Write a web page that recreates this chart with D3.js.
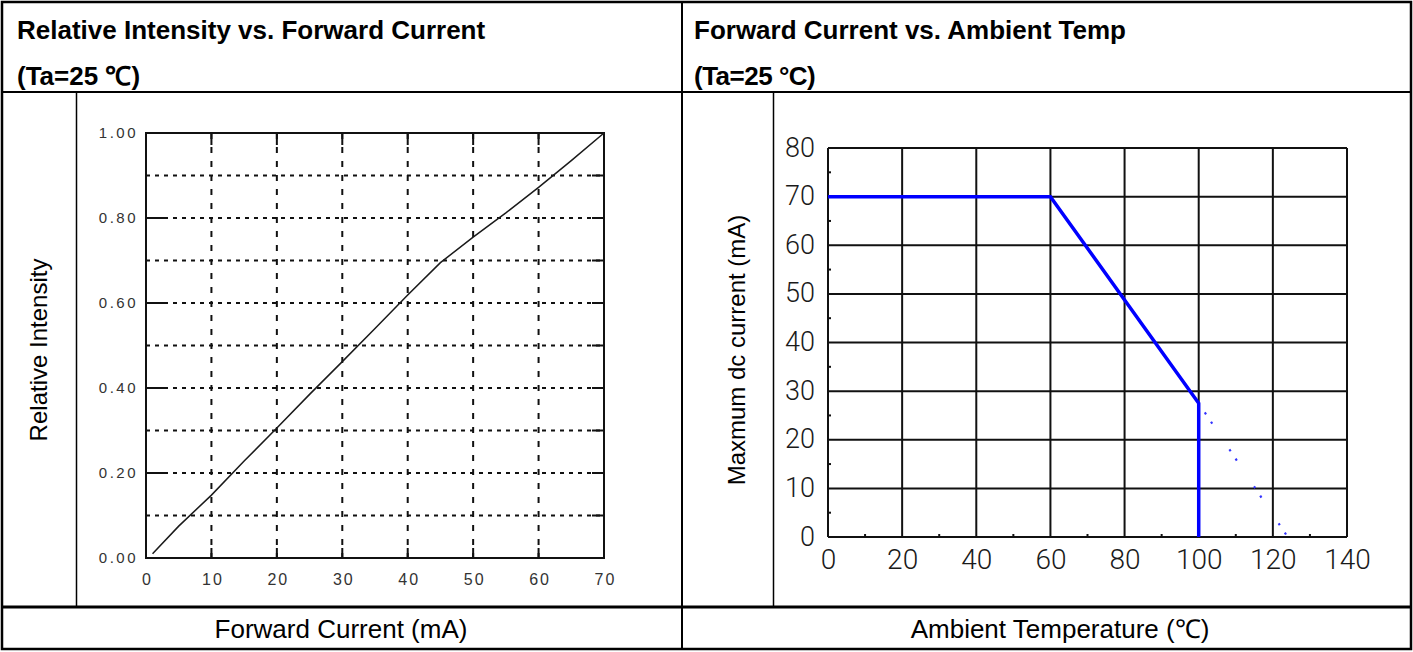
<!DOCTYPE html>
<html>
<head>
<meta charset="utf-8">
<script src="https://cdn.jsdelivr.net/npm/d3@7"></script>
<style>
  html, body { margin: 0; padding: 0; background: #fff; }
  svg { display: block; }
  .hdr { font-family: "Liberation Sans", Arial, sans-serif; font-weight: bold; font-size: 26px; fill: #000; }
  .lbl { font-family: "Liberation Sans", Arial, sans-serif; font-size: 26px; fill: #000; }
  .ylbl { font-family: "Liberation Sans", Arial, sans-serif; font-size: 24px; fill: #000; }
  .lt { font-family: "Liberation Sans", Arial, sans-serif; font-size: 15px; fill: #333; letter-spacing: 2.5px; }
  .rt { font-family: Roboto, "Liberation Sans", sans-serif; font-weight: 300; font-size: 27px; fill: #1a1a1a; }
</style>
</head>
<body>
<svg id="chart" width="1413" height="652"></svg>
<script>
// ---------- data ----------
const leftTitle = "Relative Intensity vs. Forward Current";
const leftSub = "(Ta=25 \u2103)";
const rightTitle = "Forward Current vs. Ambient Temp";
const rightSub = "(Ta=25 \u00B0C)";
const leftXLabel = "Forward Current (mA)";
const rightXLabel = "Ambient Temperature (\u2103)";
const leftYLabel = "Relative Intensity";
const rightYLabel = "Maxmum dc current (mA)";

const leftXTicks = [0, 10, 20, 30, 40, 50, 60, 70];
const leftYTicks = [0, 0.2, 0.4, 0.6, 0.8, 1.0];
const leftYGrid = [0.1, 0.2, 0.3, 0.4, 0.5, 0.6, 0.7, 0.8, 0.9];
const leftXGrid = [10, 20, 30, 40, 50, 60];

const forwardCurrent = [1, 5, 10, 15, 20, 25, 30, 35, 40, 45, 50, 55, 60, 65, 70];
const relIntensity   = [0.01, 0.075, 0.148, 0.228, 0.306, 0.385, 0.462, 0.54, 0.619, 0.695, 0.755, 0.812, 0.872, 0.935, 1.0];

const rightXTicks = [0, 20, 40, 60, 80, 100, 120, 140];
const rightYTicks = [0, 10, 20, 30, 40, 50, 60, 70, 80];
const rightXMinor = [10, 30, 50, 70, 90, 110, 130];
const rightYMinor = [5, 15, 25, 35, 45, 55, 65, 75];

const ambientTemp = [0, 60, 100, 100];
const maxCurrent  = [70, 70, 27.5, 0];
const extTemp     = [100, 124];
const extCurrent  = [27.5, 0];

// ---------- layout ----------
const svg = d3.select("#chart");
const divX = 682;

// table frame
const frame = svg.append("g").attr("stroke", "#000").attr("fill", "none");
frame.append("rect").attr("x", 2).attr("y", 2).attr("width", 1409).attr("height", 647).attr("stroke-width", 2.5);
frame.append("line").attr("x1", 2).attr("x2", 1411).attr("y1", 92).attr("y2", 92).attr("stroke-width", 2);
frame.append("line").attr("x1", 2).attr("x2", 1411).attr("y1", 607).attr("y2", 607).attr("stroke-width", 3);
frame.append("line").attr("x1", divX).attr("x2", divX).attr("y1", 2).attr("y2", 650).attr("stroke-width", 2);
frame.append("line").attr("x1", 76.5).attr("x2", 76.5).attr("y1", 92).attr("y2", 607).attr("stroke-width", 1.5);
frame.append("line").attr("x1", 773.5).attr("x2", 773.5).attr("y1", 92).attr("y2", 607).attr("stroke-width", 1.5);

svg.append("text").attr("class", "hdr").attr("x", 17).attr("y", 39).text(leftTitle);
svg.append("text").attr("class", "hdr").attr("x", 17).attr("y", 85).text(leftSub);
svg.append("text").attr("class", "hdr").attr("x", 694).attr("y", 39).text(rightTitle);
svg.append("text").attr("class", "hdr").attr("x", 694).attr("y", 85).attr("letter-spacing", "-0.5").text(rightSub);

svg.append("text").attr("class", "lbl").attr("x", 341).attr("y", 638).attr("text-anchor", "middle").text(leftXLabel);
svg.append("text").attr("class", "lbl").attr("x", 1060).attr("y", 638).attr("text-anchor", "middle").text(rightXLabel);
svg.append("text").attr("class", "ylbl").attr("transform", "translate(47,350) rotate(-90)").attr("text-anchor", "middle").text(leftYLabel);
svg.append("text").attr("class", "ylbl").attr("transform", "translate(745,350) rotate(-90)").attr("text-anchor", "middle").text(rightYLabel);

// ---------- left chart ----------
const lx = d3.scaleLinear().domain([0, 70]).range([146, 604]);
const ly = d3.scaleLinear().domain([0, 1]).range([558, 133]);
const L = svg.append("g");

L.selectAll(".hg").data(leftYGrid).join("line")
  .attr("x1", lx(0)).attr("x2", lx(70)).attr("y1", d => ly(d)).attr("y2", d => ly(d))
  .attr("stroke", "#111").attr("stroke-width", 2).attr("stroke-dasharray", "4,5");
L.selectAll(".vg").data(leftXGrid).join("line")
  .attr("x1", d => lx(d)).attr("x2", d => lx(d)).attr("y1", ly(1)).attr("y2", ly(0))
  .attr("stroke", "#111").attr("stroke-width", 2).attr("stroke-dasharray", "6,8");

L.selectAll(".tl").data(leftYTicks.filter(d => d > 0 && d < 1)).join("line")
  .attr("x1", lx(0)).attr("x2", lx(0) + 22).attr("y1", d => ly(d)).attr("y2", d => ly(d))
  .attr("stroke", "#111").attr("stroke-width", 2);
L.selectAll(".tr").data(leftYGrid).join("line")
  .attr("x1", lx(70) - 12).attr("x2", lx(70)).attr("y1", d => ly(d)).attr("y2", d => ly(d))
  .attr("stroke", "#111").attr("stroke-width", 2);
L.selectAll(".tt").data(leftXGrid).join("line")
  .attr("x1", d => lx(d)).attr("x2", d => lx(d)).attr("y1", ly(1)).attr("y2", ly(1) + 12)
  .attr("stroke", "#111").attr("stroke-width", 2);
L.selectAll(".tb").data(leftXGrid).join("line")
  .attr("x1", d => lx(d)).attr("x2", d => lx(d)).attr("y1", ly(0) - 10).attr("y2", ly(0))
  .attr("stroke", "#111").attr("stroke-width", 2);

L.append("rect").attr("x", lx(0)).attr("y", ly(1)).attr("width", lx(70) - lx(0)).attr("height", ly(0) - ly(1))
  .attr("fill", "none").attr("stroke", "#111").attr("stroke-width", 2);

const lyAxis = L.append("g").attr("transform", `translate(${lx(0) - 8},0)`)
  .call(d3.axisLeft(ly).tickValues(leftYTicks).tickFormat(d3.format(".2f")).tickSize(0));
lyAxis.select(".domain").remove();
lyAxis.selectAll("text").attr("class", "lt").attr("font-size", null).attr("font-family", null).attr("fill", null).attr("x", 0);

const lxAxis = L.append("g").attr("transform", `translate(0,${ly(0) + 13})`)
  .call(d3.axisBottom(lx).tickValues(leftXTicks).tickFormat(d3.format("d")).tickSize(0));
lxAxis.select(".domain").remove();
lxAxis.selectAll("text").attr("class", "lt").attr("font-size", null).attr("font-family", null).attr("fill", null)
  .style("font-size", "16px").style("letter-spacing", "2px").attr("dx", 1);

const lpts = forwardCurrent.map((c, i) => [c, relIntensity[i]]);
L.append("path").datum(lpts)
  .attr("d", d3.line().x(d => lx(d[0])).y(d => ly(d[1])))
  .attr("fill", "none").attr("stroke", "#1a1a1a").attr("stroke-width", 1.5);

// ---------- right chart ----------
const rx = d3.scaleLinear().domain([0, 140]).range([828, 1347]);
const ry = d3.scaleLinear().domain([0, 80]).range([537, 148]);
const R = svg.append("g");

R.selectAll(".rh").data(rightYTicks).join("line")
  .attr("x1", rx(0)).attr("x2", rx(140)).attr("y1", d => ry(d)).attr("y2", d => ry(d))
  .attr("stroke", "#111").attr("stroke-width", 2);
R.selectAll(".rv").data(rightXTicks).join("line")
  .attr("x1", d => rx(d)).attr("x2", d => rx(d)).attr("y1", ry(80)).attr("y2", ry(0))
  .attr("stroke", "#111").attr("stroke-width", 2);
R.selectAll(".rmy").data(rightYMinor).join("line")
  .attr("x1", rx(0)).attr("x2", rx(0) + 3).attr("y1", d => ry(d)).attr("y2", d => ry(d))
  .attr("stroke", "#111").attr("stroke-width", 2);
R.selectAll(".rmx").data(rightXMinor).join("line")
  .attr("x1", d => rx(d)).attr("x2", d => rx(d)).attr("y1", ry(0) - 3).attr("y2", ry(0))
  .attr("stroke", "#111").attr("stroke-width", 2);

const ryAxis = R.append("g").attr("transform", `translate(${rx(0) - 13},0)`)
  .call(d3.axisLeft(ry).tickValues(rightYTicks).tickFormat(d3.format("d")).tickSize(0));
ryAxis.select(".domain").remove();
ryAxis.selectAll("text").attr("class", "rt").attr("font-size", null).attr("font-family", null).attr("fill", null).attr("x", 0).attr("dy", "0.3em");

const rxAxis = R.append("g").attr("transform", `translate(0,${ry(0) + 9})`)
  .call(d3.axisBottom(rx).tickValues(rightXTicks).tickFormat(d3.format("d")).tickSize(0));
rxAxis.select(".domain").remove();
rxAxis.selectAll("text").attr("class", "rt").attr("font-size", null).attr("font-family", null).attr("fill", null).style("font-size", "28px");

const rpts = ambientTemp.map((t, i) => [t, maxCurrent[i]]);
R.append("path").datum(rpts)
  .attr("d", d3.line().x(d => rx(d[0])).y(d => ry(d[1])))
  .attr("fill", "none").attr("stroke", "#0000ff").attr("stroke-width", 3.5);

const epts = extTemp.map((t, i) => [t, extCurrent[i]]);
R.append("path").datum(epts)
  .attr("d", d3.line().x(d => rx(d[0])).y(d => ry(d[1])))
  .attr("fill", "none").attr("stroke", "#3333ff").attr("stroke-width", 2.2)
  .attr("stroke-dasharray", "0,11,2.2,9,2.2,20");
</script>
</body>
</html>
